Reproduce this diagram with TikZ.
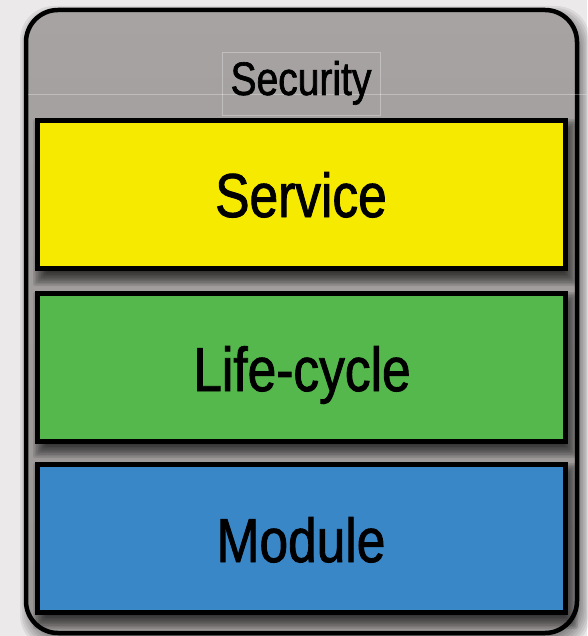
\documentclass[tikz,border=0pt]{standalone}
\usepackage{fontspec}
\setmainfont[FakeStretch=0.83, FakeBold=1.4]{Liberation Sans}

\definecolor{pagebg}{HTML}{EBE9E9}
\definecolor{shelltop}{HTML}{A7A3A3}
\definecolor{shellbot}{HTML}{999595}
\definecolor{layeryellow}{HTML}{F6EB00}
\definecolor{layergreen}{HTML}{55B84C}
\definecolor{layerblue}{HTML}{3A87C7}

\tikzset{
  shell/.style={draw=black, line width=4.5pt, rounded corners=32pt,
    top color=shelltop, bottom color=shellbot,
    minimum width=551pt, minimum height=623pt, inner sep=0pt, outer sep=0pt},
  layer/.style={draw=black, line width=5pt, minimum width=528pt,
    minimum height=148pt, inner sep=0pt, outer sep=0pt},
  guide/.style={draw=white, line width=0.6pt, opacity=0.3},
  bigtext/.style={anchor=base, inner sep=0pt, text=black,
    font=\fontsize{62}{70}\selectfont},
  smalltext/.style={anchor=base, inner sep=0pt, text=black,
    font=\fontsize{47}{54}\selectfont},
}

% soft shadow: stacked translucent rectangles, #1 = corner radius,
% (#2,#3) -- (#4,#5) = outline, #6 = blur width, #7 = opacity per layer
\newcommand\softshadow[7]{%
  \foreach \k in {0,...,9}{%
    \fill[black, opacity=#7, rounded corners=#1]
      ({#2-#6+\k*#6/5}, {#3-#6+\k*#6/5}) rectangle
      ({#4+#6-\k*#6/5}, {#5+#6-\k*#6/5});
  }%
}

\begin{document}
\begin{tikzpicture}[x=1pt, y=-1pt]
  \useasboundingbox (0,0) rectangle (587,636);
  \fill[pagebg] (0,0) rectangle (587,636);

  % shadow of the outer shell
  \softshadow{34pt}{29}{15}{581}{640}{9}{0.07}

  % outer shell (Security)
  \node[shell] (shell) at (301.5,321.5) {};

  % faint guide lines
  \draw[guide] (28,94) -- (587,94);
  \draw[guide] (222,52) rectangle (380,115);

  % shadows under the three layers
  \softshadow{2pt}{41}{127}{570}{278}{8}{0.1}
  \softshadow{2pt}{41}{300}{570}{450}{8}{0.1}
  \softshadow{2pt}{41}{471}{570}{621}{8}{0.1}

  % layers
  \node[layer, fill=layeryellow] (service)   at (301.5,194.5) {};
  \node[layer, fill=layergreen]  (lifecycle) at (301.5,367.5) {};
  \node[layer, fill=layerblue]   (module)    at (301.5,538.5) {};

  % labels
  \node[smalltext] (security-label)  at (301,95)  {Security};
  \node[bigtext]   (service-label)   at (301,217) {Service};
  \node[bigtext]   (lifecycle-label) at (302,391) {Life-cycle};
  \node[bigtext]   (module-label)    at (301,562) {Module};
\end{tikzpicture}
\end{document}
